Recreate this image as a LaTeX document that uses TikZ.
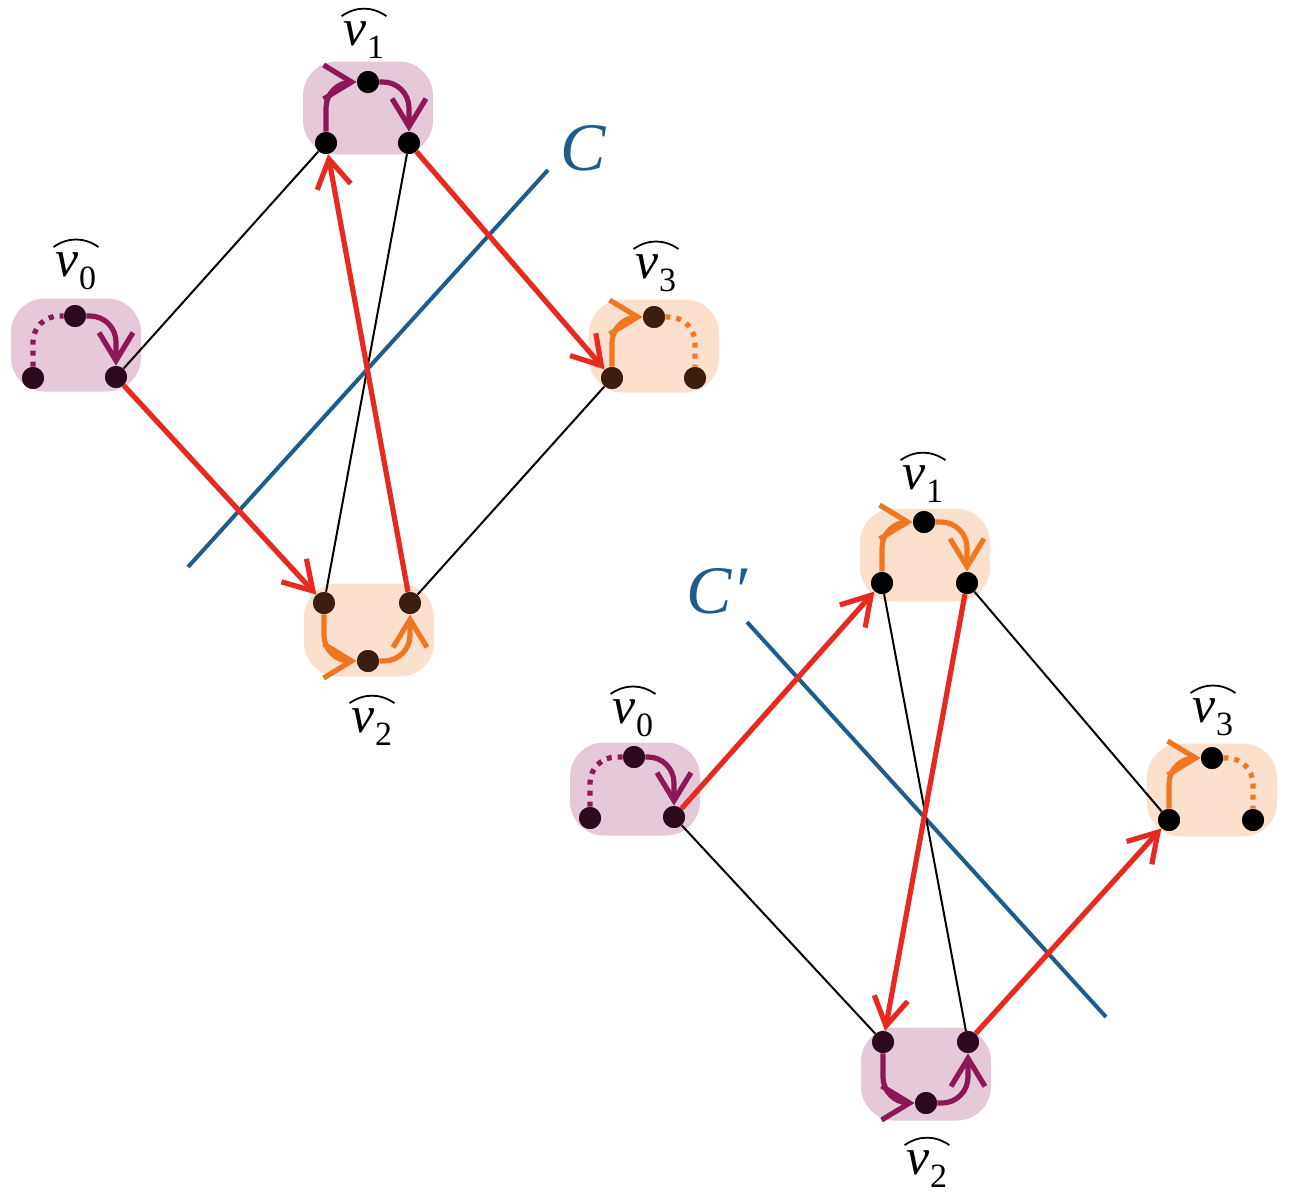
\documentclass[tikz,border=0pt]{standalone}
\usepackage{fontspec}
\newfontfamily\lserif{Liberation Serif}
\usetikzlibrary{arrows.meta}
\definecolor{pfill}{HTML}{E6C9D9}
\definecolor{ofill}{HTML}{FCE0CE}
\definecolor{pline}{HTML}{8E1758}
\definecolor{oline}{HTML}{F07722}
\definecolor{redc}{HTML}{E8291F}
\definecolor{bluec}{HTML}{1E5C8C}
\definecolor{pdot}{HTML}{2A0A1C}
\definecolor{odot}{HTML}{3A1F0E}
\newcommand{\sublab}[1]{\textit{v}\raisebox{-6.5pt}{\upshape\fontsize{17}{20}\selectfont #1}}
\tikzset{
 pbox/.style={fill=pfill, rounded corners=17pt, minimum width=65pt, minimum height=46.5pt, inner sep=0pt, draw=none},
 obox/.style={pbox, fill=ofill},
 dot/.style={circle, fill=#1, inner sep=0pt, minimum size=11pt},
 dot/.default=black,
 lab/.style={font=\lserif\fontsize{26}{30}\selectfont, inner sep=0pt},
 hatarc/.style={draw=black, line width=0.9pt},
 clab/.style={font=\lserif\itshape\fontsize{34}{40}\selectfont, text=bluec, inner sep=0pt},
 tip/.style={-{Straight Barb[length=14pt,width=17pt]}},
 redge/.style={draw=redc, line width=2.6pt, tip},
 bedge/.style={draw=black, line width=1pt},
 gp/.style={draw=pline, line width=2.6pt, rounded corners=13pt},
 go/.style={gp, draw=oline},
 gdots/.style={dash pattern=on 2.5pt off 3pt},
 cut/.style={draw=bluec, line width=2pt},
}
\begin{document}
\begin{tikzpicture}[x=0.5pt,y=-0.5pt]
\useasboundingbox (0,0) rectangle (1290,1200);
% ---------- top diagram ----------
\node[pbox] (A1) at (368,108) {};
\node[pbox] (A0) at (76,345) {};
\node[obox] (A3) at (654,346) {};
\node[obox] (A2) at (369,630) {};
\node[lab] (LA1) at (364,40) {\sublab{1}};
\node[lab] (LA0) at (76,271) {\sublab{0}};
\node[lab] (LA3) at (656,273) {\sublab{3}};
\node[lab] (LA2) at (372,727) {\sublab{2}};
\node[dot] (A1t) at (368,82) {};
\node[dot] (A1l) at (326,143) {};
\node[dot] (A1r) at (409,143) {};
\node[dot=pdot] (A0t) at (75,316) {};
\node[dot=pdot] (A0l) at (33,378) {};
\node[dot=pdot] (A0r) at (116,377) {};
\node[dot=odot] (A3t) at (654,317) {};
\node[dot=odot] (A3l) at (612,378) {};
\node[dot=odot] (A3r) at (695,378) {};
\node[dot=odot] (A2l) at (324,603) {};
\node[dot=odot] (A2r) at (410,603) {};
\node[dot=odot] (A2b) at (368,661) {};
\coordinate (CAa) at (188,567);
\coordinate (CAb) at (548,170);
\draw[cut] (CAa) -- (CAb);
\node[clab] (LCA) at (583,148) {C};
\draw[bedge] (A0r) -- (A1l);
\draw[bedge] (A1r) -- (A2l);
\draw[bedge] (A2r) -- (A3l);
\draw[redge] (A1r) -- (A3l);
\draw[redge] (A0r) -- (A2l);
\draw[redge] (A2r) -- (A1l);
\draw[gp,tip] (A1l) |- (A1t);
\draw[gp,tip] (A1t) -| (A1r);
\draw[gp,gdots] (A0l) |- (A0t);
\draw[gp,tip] (A0t) -| (A0r);
\draw[go,tip] (A3l) |- (A3t);
\draw[go,gdots] (A3t) -| (A3r);
\draw[go,tip] (A2l) |- (A2b);
\draw[go,tip] (A2b) -| (A2r);
% ---------- bottom diagram ----------
\node[obox] (B1) at (925,555) {};
\node[pbox] (B0) at (635,789) {};
\node[obox] (B3) at (1212,790) {};
\node[pbox] (B2) at (926,1074) {};
\node[lab] (LB1) at (923,484) {\sublab{1}};
\node[lab] (LB0) at (633,718) {\sublab{0}};
\node[lab] (LB3) at (1213,717) {\sublab{3}};
\node[lab] (LB2) at (927,1169) {\sublab{2}};
\node[dot] (B1t) at (924,522) {};
\node[dot] (B1l) at (882,583) {};
\node[dot] (B1r) at (967,583) {};
\node[dot=pdot] (B0t) at (634,757) {};
\node[dot=pdot] (B0l) at (590,818) {};
\node[dot=pdot] (B0r) at (674,817) {};
\node[dot] (B3t) at (1212,758) {};
\node[dot] (B3l) at (1169,820) {};
\node[dot] (B3r) at (1253,820) {};
\node[dot=pdot] (B2l) at (883,1042) {};
\node[dot=pdot] (B2r) at (968,1042) {};
\node[dot=pdot] (B2b) at (926,1103) {};
\coordinate (CBa) at (747,622);
\coordinate (CBb) at (1106,1017);
\draw[cut] (CBa) -- (CBb);
\node[clab] (LCB) at (717,591) {C′};
\draw[bedge] (B0r) -- (B2l);
\draw[bedge] (B1l) -- (B2r);
\draw[bedge] (B1r) -- (B3l);
\draw[redge] (B0r) -- (B1l);
\draw[redge] (B1r) -- (B2l);
\draw[redge] (B2r) -- (B3l);
\draw[go,tip] (B1l) |- (B1t);
\draw[go,tip] (B1t) -| (B1r);
\draw[gp,gdots] (B0l) |- (B0t);
\draw[gp,tip] (B0t) -| (B0r);
\draw[go,tip] (B3l) |- (B3t);
\draw[go,gdots] (B3t) -| (B3r);
\draw[gp,tip] (B2l) |- (B2b);
\draw[gp,tip] (B2b) -| (B2r);
% hats over labels
\foreach \n in {LA1,LA0,LA3,LA2,LB1,LB0,LB3,LB2}
  \draw[hatarc] ([shift={(-1pt,2.5pt)}]\n.north west) to[bend left=35] ([shift={(1pt,2.5pt)}]\n.north east);
% redraw dots on top
\foreach \n in {A1t,A1l,A1r,B1t,B1l,B1r,B3t,B3l,B3r}
  \fill[black] (\n) circle (5.5pt);
\foreach \n in {A0t,A0l,A0r,B0t,B0l,B0r,B2l,B2r,B2b}
  \fill[pdot] (\n) circle (5.5pt);
\foreach \n in {A3t,A3l,A3r,A2l,A2r,A2b}
  \fill[odot] (\n) circle (5.5pt);
\end{tikzpicture}
\end{document}
